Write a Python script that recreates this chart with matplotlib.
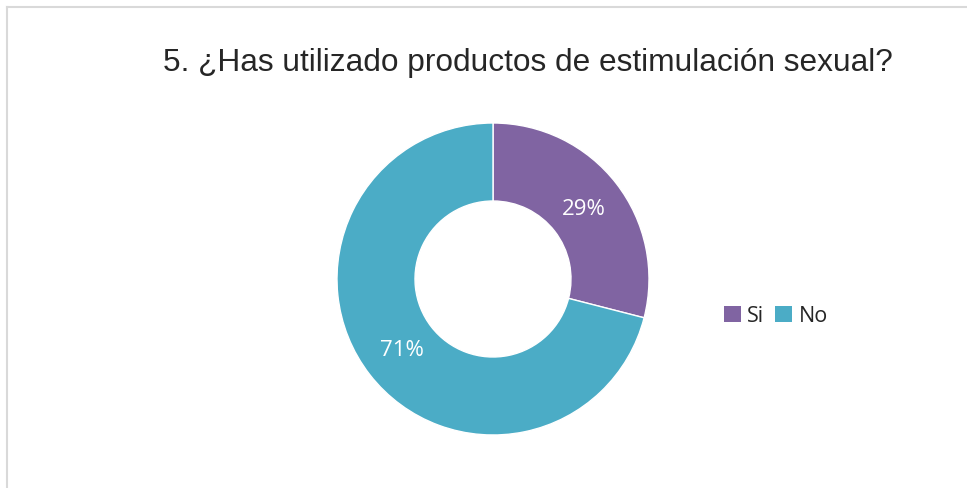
import matplotlib.pyplot as plt
from matplotlib.lines import Line2D
from matplotlib.patches import Patch

labels = ["Si", "No"]
values = [29, 71]
colors = ["#8064A2", "#4BACC6"]
title = "5. ¿Has utilizado productos de estimulación sexual?"

W, H = 967, 489
fig = plt.figure(figsize=(W / 100, H / 100), dpi=100)

# chart border (only top and left visible in the crop)
fig.add_artist(Line2D([6.5 / W, 6.5 / W], [0, 1 - 7.5 / H], transform=fig.transFigure,
                      color="#D9D9D9", lw=1.5))
fig.add_artist(Line2D([6.5 / W, 1], [1 - 7.5 / H, 1 - 7.5 / H], transform=fig.transFigure,
                      color="#D9D9D9", lw=1.5))

# donut: centre (493, 280) px, radius 156 px
cx, cy, r = 493, H - 280, 156
ax = fig.add_axes([(cx - r) / W, (cy - r) / H, 2 * r / W, 2 * r / H])
wedges, texts, autotexts = ax.pie(
    values, colors=colors, startangle=90, counterclock=False, radius=1,
    autopct="%1.0f%%", pctdistance=0.74,
    wedgeprops=dict(width=0.5, edgecolor="white", linewidth=1),
    textprops=dict(color="white", fontsize=16, family="Open Sans"),
)
ax.set_xlim(-1, 1)
ax.set_ylim(-1, 1)
ax.axis("off")

fig.text(528 / W, 1 - 63 / H, title, ha="center", va="center",
         fontsize=22.8, family="Liberation Sans", color="#262626")

handles = [Patch(facecolor=c, edgecolor="none") for c in colors]
fig.legend(handles, labels, loc="center left", bbox_to_anchor=(724 / W, 1 - 317 / H),
           ncol=2, frameon=False, handlelength=0.78, handleheight=0.78,
           handletextpad=0.3, columnspacing=0.5, borderpad=0, borderaxespad=0,
           prop=dict(family="Open Sans", size=15.5))
for t in fig.legends[0].get_texts():
    t.set_color("#262626")

fig.savefig("out.png", dpi=100)
